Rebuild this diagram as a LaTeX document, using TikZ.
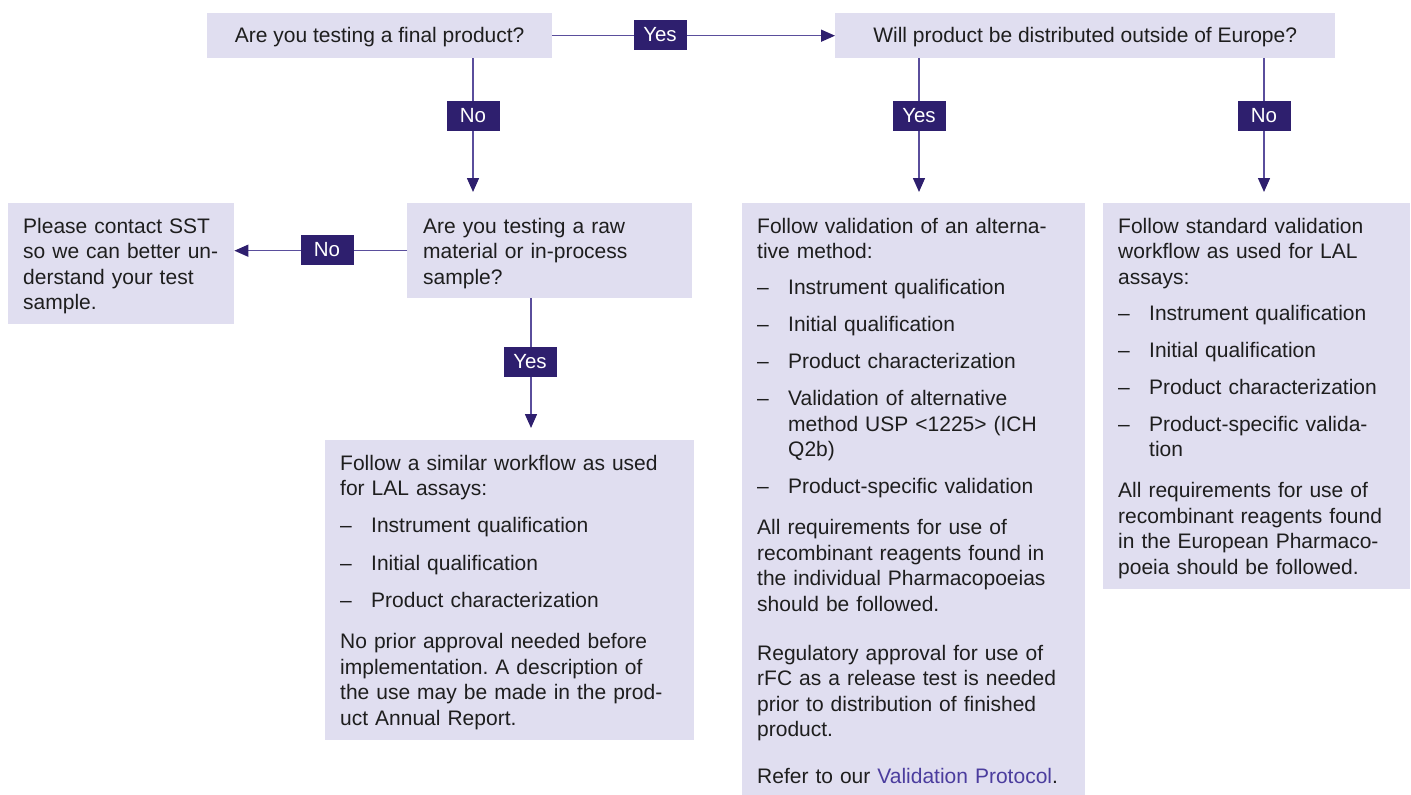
\documentclass[tikz,border=0pt]{standalone}
\usepackage{fontspec}
\setmainfont{Liberation Sans}
\usetikzlibrary{arrows.meta}
\definecolor{boxfill}{HTML}{E0DEF0}
\definecolor{lblfill}{HTML}{2E1F6E}
\definecolor{linec}{HTML}{5A4E9C}
\definecolor{txt}{HTML}{1E1E1E}
\definecolor{linkc}{HTML}{4B3D9E}
\newcommand{\itm}{\makebox[31pt][l]{–}}
\newcommand{\ind}{\hspace*{31pt}}
\frenchspacing
\begin{document}
\begin{tikzpicture}[x=1pt,y=-1pt,
  box/.style={fill=boxfill, draw=none, inner sep=0pt, anchor=north west},
  body/.style={anchor=north west, inner sep=0pt, align=left, text=txt, font=\fontsize{21}{25.5}\selectfont},
  qtext/.style={text=txt, font=\fontsize{21}{25.5}\selectfont, text height=16pt, text depth=2pt},
  lbl/.style={fill=lblfill, text=white, inner sep=0pt, minimum width=53pt, minimum height=30pt, font=\fontsize{20.5}{24}\selectfont},
  arr/.style={draw=linec, line width=1.5pt, -{Triangle[length=14pt,width=12pt,color=lblfill]}}]
\useasboundingbox (0,0) rectangle (1411,795);

% boxes
\node[box, qtext, minimum width=345pt, minimum height=45pt] (q1) at (207,13) {Are you testing a final product?};
\node[box, qtext, minimum width=500pt, minimum height=45pt] (q2) at (835,13) {Will product be distributed outside of Europe?};
\node[box, minimum width=285pt, minimum height=95pt] (q3) at (407,203) {};
\node[box, minimum width=226pt, minimum height=121pt] (contact) at (8,203) {};
\node[box, minimum width=369pt, minimum height=300pt] (lal) at (325,440) {};
\node[box, minimum width=343pt, minimum height=592pt] (alt) at (742,203) {};
\node[box, minimum width=307pt, minimum height=386pt] (std) at (1103,203) {};

% texts
\node[body, text width=264pt] (q3t) at (423,215.15) {\strut Are you testing a raw\\ material or in-process\\ sample?};
\node[body, text width=206pt] (contactt) at (23,215.15) {\strut Please contact SST\\ so we can better un-\\ derstand your test\\ sample.};
\node[body, text width=349pt] (lalt) at (340,452.15) {\strut Follow a similar workflow as used\\ for LAL assays:\\[11.5pt]
\itm Instrument qualification\\[12pt]
\itm Initial qualification\\[12pt]
\itm Product characterization\\[15.5pt]
No prior approval needed before\\ implementation. A description of\\ the use may be made in the prod-\\ uct Annual Report.};
\node[body, text width=323pt] (altt) at (757,215.15) {\strut Follow validation of an alterna-\\ tive method:\\[10.5pt]
\itm Instrument qualification\\[11.5pt]
\itm Initial qualification\\[11.5pt]
\itm Product characterization\\[11.5pt]
\itm Validation of alternative\\ \ind method USP <1225> (ICH\\ \ind Q2b)\\[11.5pt]
\itm Product-specific validation\\[15.5pt]
All requirements for use of\\ recombinant reagents found in\\ the individual Pharmacopoeias\\ should be followed.\\[23.5pt]
Regulatory approval for use of\\ rFC as a release test is needed\\ prior to distribution of finished\\ product.\\[21.5pt]
Refer to our \textcolor{linkc}{Validation Protocol}.};
\node[body, text width=287pt] (stdt) at (1118,215.15) {\strut Follow standard validation\\ workflow as used for LAL\\ assays:\\[10.5pt]
\itm Instrument qualification\\[11.5pt]
\itm Initial qualification\\[11.5pt]
\itm Product characterization\\[11.5pt]
\itm Product-specific valida-\\ \ind tion\\[15.5pt]
All requirements for use of\\ recombinant reagents found\\ in the European Pharmaco-\\ poeia should be followed.};

% connectors
\coordinate (c1) at (473,0);
\coordinate (c2) at (919,0);
\coordinate (c3) at (1264,0);
\coordinate (c4) at (531,0);
\draw[arr] (q1.east) -- (q2.west);
\node[lbl] (l1) at (660,34.5) {Yes};
\draw[arr, shorten >=11pt] (q1.south -| c1) -- (q3.north -| c1);
\node[lbl] (l2) at (473,116) {No};
\draw[arr, shorten >=11pt] (q2.south -| c2) -- (alt.north -| c2);
\node[lbl] (l3) at (919,116) {Yes};
\draw[arr, shorten >=11pt] (q2.south -| c3) -- (std.north -| c3);
\node[lbl] (l4) at (1264,116) {No};
\draw[arr] (q3.west) -- (q3.west -| contact.east);
\node[lbl] (l5) at (327,250) {No};
\draw[arr, shorten >=12pt] (q3.south -| c4) -- (lal.north -| c4);
\node[lbl] (l6) at (530,362) {Yes};
\end{tikzpicture}
\end{document}
